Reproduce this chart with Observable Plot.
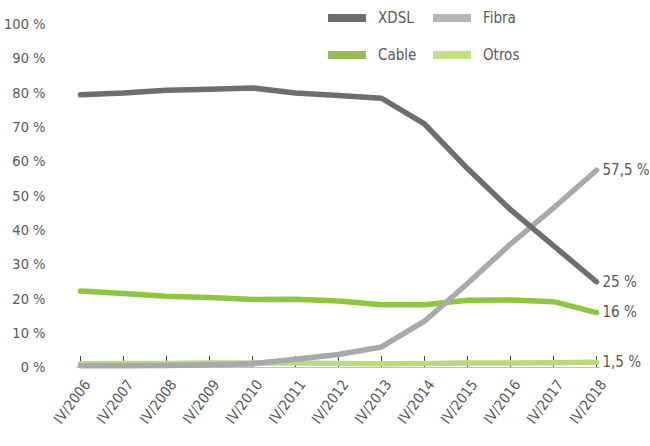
<!DOCTYPE html>
<html>
<head>
<meta charset="utf-8">
<script src="https://cdn.jsdelivr.net/npm/d3@7"></script>
<script src="https://cdn.jsdelivr.net/npm/@observablehq/plot@0.6"></script>
<style>
  html, body { margin: 0; padding: 0; background: #fff; }
  #wrap { position: relative; width: 650px; height: 446px; font-family: "DejaVu Sans Condensed", sans-serif; }
  #legend { position: absolute; left: 328px; top: 8px; display: grid; grid-template-columns: 105px 110px; row-gap: 17px; font-size: 15px; color: #595959; }
  .item { display: flex; align-items: center; height: 20px; }
  .sw { width: 38px; height: 8px; margin-right: 12px; }
</style>
</head>
<body>
<div id="wrap">
  <div id="chart"></div>
  <div id="legend"></div>
</div>
<script>
// Quarters (fourth quarter of each year)
const periods = ["IV/2006","IV/2007","IV/2008","IV/2009","IV/2010","IV/2011","IV/2012","IV/2013","IV/2014","IV/2015","IV/2016","IV/2017","IV/2018"];

// Share of broadband lines by technology, %
const xdsl  = [79.5, 80.0, 80.8, 81.1, 81.5, 80.0, 79.3, 78.5, 71.0, 58.0, 46.0, 35.5, 25.0];
const fibra = [0.5, 0.5, 0.6, 0.8, 1.1, 2.4, 3.8, 6.0, 13.5, 24.5, 36.0, 46.5, 57.5];
const cable = [22.3, 21.6, 20.8, 20.4, 19.8, 19.9, 19.4, 18.3, 18.3, 19.6, 19.7, 19.2, 16.0];
const otros = [1.1, 1.2, 1.2, 1.3, 1.3, 1.3, 1.2, 1.1, 1.2, 1.3, 1.3, 1.4, 1.5];

const yTicks = [0, 10, 20, 30, 40, 50, 60, 70, 80, 90, 100];

// Drawing order: greens at the bottom, Fibra above them, XDSL on top
const series = [
  {name: "Otros", values: otros, color: "#b8dc7c", swatch: "#c3e082"},
  {name: "Cable", values: cable, color: "#8dc63f", swatch: "#9bbb59"},
  {name: "Fibra", values: fibra, color: "#a7a9ac", swatch: "#b3b5b8"},
  {name: "XDSL",  values: xdsl,  color: "#6d6e71", swatch: "#6d6e71"}
];

const rows = series.flatMap(s => s.values.map((v, i) => ({serie: s.name, period: periods[i], value: v})));
const last = series.map(s => ({serie: s.name, period: periods[periods.length - 1], value: s.values[s.values.length - 1]}));

const fmt = v => String(v).replace(".", ",") + " %";

const chart = Plot.plot({
  width: 650,
  height: 446,
  marginLeft: 76,
  marginRight: 50,
  marginTop: 24,
  marginBottom: 79,
  style: {fontFamily: "'DejaVu Sans Condensed', sans-serif", color: "#595959", background: "#fff"},
  x: {type: "point", domain: periods, padding: 0},
  y: {domain: [0, 100]},
  marks: [
    Plot.axisY(yTicks, {tickSize: 0, tickPadding: 31, tickFormat: d => d + " %", fontSize: 14.5, fill: "#595959", label: null}),
    Plot.axisX(periods, {tickSize: 0, tickRotate: -53, textAnchor: "end", dx: 7, dy: 3, fontSize: 14.5, fill: "#595959", label: null}),
    Plot.ruleY([0], {stroke: "#bfbfbf"}),
    Plot.ruleX(periods, {x: d => d, y1: 0, y2: 3.2, stroke: "#404040", strokeWidth: 1}),
    ...series.map(s => Plot.line(rows.filter(r => r.serie === s.name), {
      x: "period", y: "value", stroke: s.color, strokeWidth: 5.5, strokeLinecap: "round", strokeLinejoin: "round"
    })),
    Plot.text(last, {x: "period", y: "value", text: d => fmt(d.value), textAnchor: "start", dx: 6, fontSize: 15, fill: "#595959"})
  ]
});
document.getElementById("chart").appendChild(chart);

// Legend in two rows: XDSL, Fibra / Cable, Otros
const legendOrder = ["XDSL", "Fibra", "Cable", "Otros"];
const legend = document.getElementById("legend");
for (const name of legendOrder) {
  const s = series.find(d => d.name === name);
  const item = document.createElement("div");
  item.className = "item";
  item.innerHTML = `<span class="sw" style="background:${s.swatch}"></span><span>${s.name}</span>`;
  legend.appendChild(item);
}
</script>
</body>
</html>
